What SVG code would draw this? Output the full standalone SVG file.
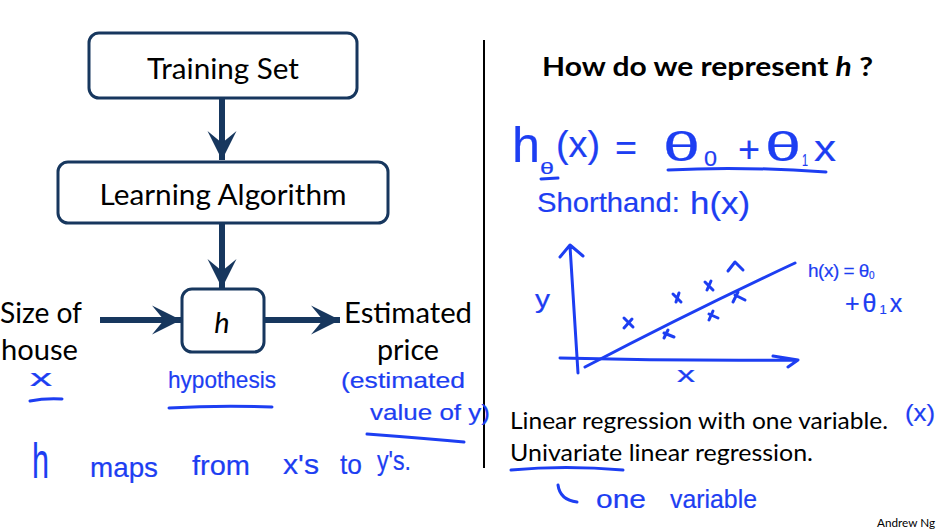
<svg xmlns="http://www.w3.org/2000/svg" width="939" height="532" viewBox="0 0 939 532">
<style>
.box{fill:#fff;stroke:#17375e;stroke-width:3}
.lbl{font-family:Lato,"Open Sans",sans-serif;fill:#000}
.conn{stroke:#17375e;stroke-width:6;fill:none}
.hw{font-family:"Liberation Sans",Arial,sans-serif;fill:#1d3ef2;stroke:#1d3ef2;stroke-width:0.2}
.ink{fill:none;stroke:#1d3ef2;stroke-width:3;stroke-linecap:round;stroke-linejoin:round}
</style>
<defs>
<marker id="ah" viewBox="-30 -16 32 32" refX="0" refY="0" markerWidth="32" markerHeight="32" markerUnits="userSpaceOnUse" orient="auto">
<path d="M0,0 L-29,-14.5 L-17,0 L-29,14.5 Z" fill="#17375e"/>
</marker>
</defs>
<rect width="939" height="532" fill="#fff"/>

<g id="node-training-set">
<rect class="box" x="89" y="33" width="268" height="65" rx="10"/>
<text class="lbl" x="223" y="79" font-size="29" text-anchor="middle" textLength="152" lengthAdjust="spacingAndGlyphs">Training Set</text>
</g>
<g id="node-learning-algorithm">
<rect class="box" x="58" y="162" width="330" height="61" rx="10"/>
<text class="lbl" x="223" y="205" font-size="29" text-anchor="middle" textLength="247" lengthAdjust="spacingAndGlyphs">Learning Algorithm</text>
</g>
<g id="node-h">
<rect class="box" x="182" y="289" width="82" height="63" rx="10"/>
<text class="lbl" x="222" y="333" font-size="29" font-style="italic" text-anchor="middle">h</text>
</g>
<g id="node-size-of-house">
<text class="lbl" x="0" y="323" font-size="29" textLength="82" lengthAdjust="spacingAndGlyphs">Size of</text>
<text class="lbl" x="1" y="360" font-size="29" textLength="77" lengthAdjust="spacingAndGlyphs">house</text>
</g>
<g id="node-estimated-price">
<text class="lbl" x="344" y="323" font-size="29" textLength="128" lengthAdjust="spacingAndGlyphs">Estimated</text>
<text class="lbl" x="377" y="360" font-size="29" textLength="62" lengthAdjust="spacingAndGlyphs">price</text>
</g>

<g id="connectors">
<line class="conn" x1="222" y1="98" x2="222" y2="160" marker-end="url(#ah)"/>
<line class="conn" x1="222" y1="223" x2="222" y2="288" marker-end="url(#ah)"/>
<line class="conn" x1="100" y1="320" x2="181" y2="320" marker-end="url(#ah)"/>
<line class="conn" x1="264" y1="320" x2="340" y2="320" marker-end="url(#ah)"/>
</g>

<line x1="484" y1="40" x2="484" y2="468" stroke="#000" stroke-width="2"/>

<text class="lbl" x="542" y="76" font-size="26" font-weight="bold" textLength="331" lengthAdjust="spacingAndGlyphs">How do we represent <tspan font-style="italic">h</tspan> ?</text>
<text class="lbl" x="510" y="429" font-size="22.5" textLength="378" lengthAdjust="spacingAndGlyphs">Linear regression with one variable.</text>
<text class="lbl" x="510" y="461" font-size="22.5" textLength="303" lengthAdjust="spacingAndGlyphs">Univariate linear regression.</text>
<text class="lbl" x="877" y="527" font-size="11" textLength="58" lengthAdjust="spacingAndGlyphs">Andrew Ng</text>

<!-- handwritten annotations, left -->
<text class="hw" x="30" y="386" font-size="24" textLength="22" lengthAdjust="spacingAndGlyphs">x</text>
<path class="ink" d="M30,401 Q45,398 62,399"/>
<text class="hw" x="168" y="388" font-size="24" textLength="108" lengthAdjust="spacingAndGlyphs">hypothesis</text>
<path class="ink" d="M169,408 Q220,405 272,407"/>
<text class="hw" x="341" y="388" font-size="22" textLength="124" lengthAdjust="spacingAndGlyphs">(estimated</text>
<text class="hw" x="370" y="420" font-size="22" textLength="120" lengthAdjust="spacingAndGlyphs">value of y)</text>
<path class="ink" d="M367,434 Q420,438 464,442"/>
<text class="hw" x="32" y="478" font-size="50" textLength="17" lengthAdjust="spacingAndGlyphs">h</text>
<text class="hw" x="90" y="477" font-size="28" textLength="68" lengthAdjust="spacingAndGlyphs">maps</text>
<text class="hw" x="192" y="475" font-size="28" textLength="58" lengthAdjust="spacingAndGlyphs">from</text>
<text class="hw" x="283" y="474" font-size="28" textLength="36" lengthAdjust="spacingAndGlyphs">x's</text>
<text class="hw" x="340" y="474" font-size="28" textLength="22" lengthAdjust="spacingAndGlyphs">to</text>
<text class="hw" x="377" y="470" font-size="28" textLength="34" lengthAdjust="spacingAndGlyphs">y's.</text>

<!-- handwritten, right top -->
<text class="hw" x="512" y="162" font-size="50" textLength="28" lengthAdjust="spacingAndGlyphs">h</text>
<text class="hw" x="540" y="174" font-size="17" textLength="14" lengthAdjust="spacingAndGlyphs">θ</text>
<text class="hw" x="556" y="157" font-size="36" textLength="44" lengthAdjust="spacingAndGlyphs">(x)</text>
<text class="hw" x="615" y="160" font-size="36" textLength="22" lengthAdjust="spacingAndGlyphs">=</text>
<text class="hw" x="663" y="161" font-size="40" textLength="37" lengthAdjust="spacingAndGlyphs">θ</text>
<text class="hw" x="704" y="166" font-size="22" textLength="13" lengthAdjust="spacingAndGlyphs">0</text>
<text class="hw" x="738" y="162" font-size="36" textLength="22" lengthAdjust="spacingAndGlyphs">+</text>
<text class="hw" x="765" y="161" font-size="40" textLength="36" lengthAdjust="spacingAndGlyphs">θ</text>
<text class="hw" x="802" y="166" font-size="16" textLength="6" lengthAdjust="spacingAndGlyphs">1</text>
<text class="hw" x="814" y="161" font-size="36" textLength="22" lengthAdjust="spacingAndGlyphs">x</text>
<path class="ink" d="M668,170 Q740,166 826,172"/>
<path class="ink" d="M541,179 L558,178"/>
<text class="hw" x="537" y="212" font-size="28" textLength="143" lengthAdjust="spacingAndGlyphs">Shorthand:</text>
<text class="hw" x="690" y="214" font-size="32" textLength="60" lengthAdjust="spacingAndGlyphs">h(x)</text>

<!-- graph -->
<path class="ink" d="M570,246 L578,373 M560,257 L570,245 L583,256"/>
<path class="ink" d="M560,358 Q680,361 798,360 M773,356 L798,360 L788,367"/>
<path class="ink" d="M585,367 Q690,312 795,263"/>
<path class="ink" d="M624,318 L633,327 M632,319 L624,328 M673,294 L681,302 M679,293 L676,302 M705,282 L713,290 M711,281 L707,290 M735,295 L745,300 M738,292 L733,302 M709,314 L718,318 M713,311 L709,320 M664,333 L674,337 M668,330 L664,338 M728,271 L735,262 L743,270"/>
<text class="hw" x="535" y="308" font-size="26" textLength="15" lengthAdjust="spacingAndGlyphs">y</text>
<text class="hw" x="677" y="382" font-size="22" textLength="18" lengthAdjust="spacingAndGlyphs">x</text>
<text class="hw" x="808" y="277" font-size="19" letter-spacing="-0.5">h(x) = θ<tspan font-size="10" dy="2">0</tspan></text>
<text class="hw" x="845" y="312" font-size="25" letter-spacing="3">+θ<tspan font-size="13" dy="2">1</tspan><tspan dy="-2">x</tspan></text>

<!-- bottom right handwriting -->
<text class="hw" x="905" y="421" font-size="24" textLength="30" lengthAdjust="spacingAndGlyphs">(x)</text>
<path class="ink" d="M511,470 Q565,465 623,470"/>
<path class="ink" d="M558,485 Q560,500 577,502"/>
<text class="hw" x="596" y="508" font-size="26" textLength="50" lengthAdjust="spacingAndGlyphs">one</text>
<text class="hw" x="670" y="508" font-size="26" textLength="87" lengthAdjust="spacingAndGlyphs">variable</text>
</svg>
